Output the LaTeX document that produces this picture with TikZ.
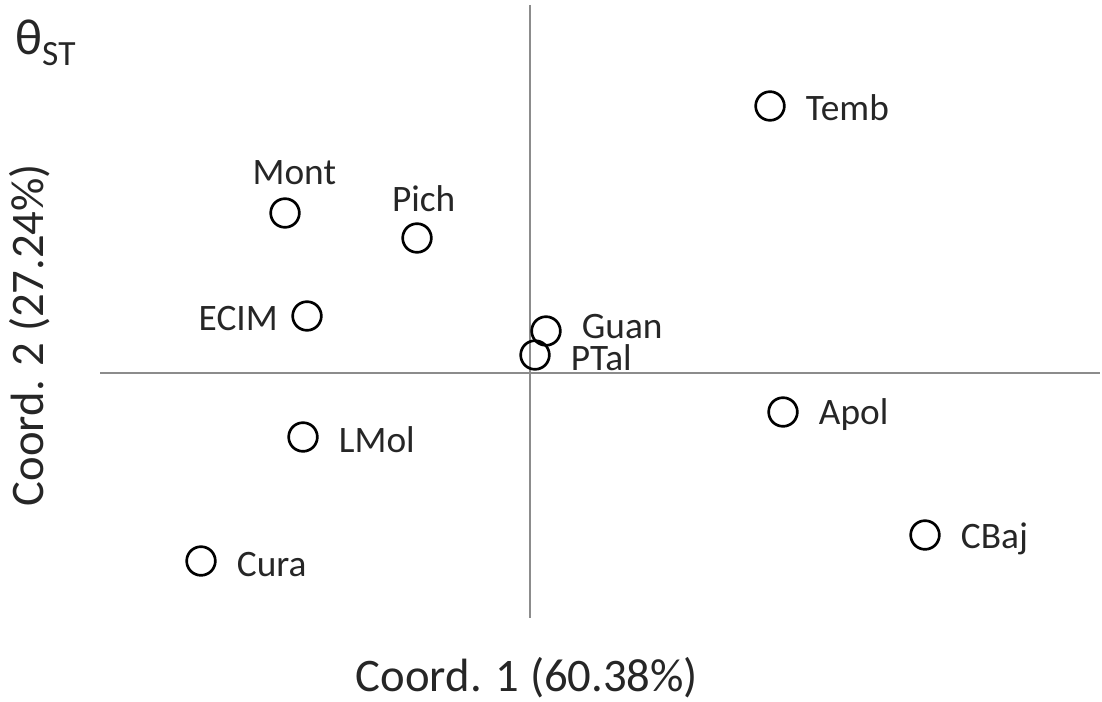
\documentclass[tikz,border=0pt]{standalone}
\usepackage{fontspec}
\setmainfont{Carlito}
\usetikzlibrary{positioning}
\begin{document}
\begin{tikzpicture}[
    x=0.75pt, y=-0.75pt,
    site/.style={circle, draw=black, line width=2pt, fill=none, minimum size=21.5pt, inner sep=0pt},
    tag/.style={font=\fontsize{28}{30}\selectfont, text=black!85, inner sep=0pt},
    axis/.style={draw=gray!90, line width=1.2pt},
    node distance=15pt
]
\useasboundingbox (0,0) rectangle (1102,702);

% axes
\coordinate (ytop) at (530,5);
\coordinate (ybot) at (530,618);
\coordinate (xl) at (100,373);
\coordinate (xr) at (1100,373);
\draw[axis] (ytop) -- (ybot);
\draw[axis] (xl) -- (xr);

% sites
\node[site] (temb) at (770,106) {};
\node[site] (mont) at (285,213) {};
\node[site] (pich) at (417,238) {};
\node[site] (ecim) at (307,316) {};
\node[site] (guan) at (546,331) {};
\node[site] (ptal) at (535,355) {};
\node[site] (apol) at (783,412) {};
\node[site] (lmol) at (303,437) {};
\node[site] (cbaj) at (925,535) {};
\node[site] (cura) at (201,561) {};

\node[tag, right=of temb, yshift=-1pt] (tembT) {Temb};
\node[tag, above=7pt of mont, xshift=7pt, yshift=2pt] (montT) {Mont};
\node[tag, above=7pt of pich, xshift=5pt, yshift=1pt] (pichT) {Pich};
\node[tag, left=10pt of ecim, yshift=-2pt] (ecimT) {ECIM};
\node[tag, right=of guan, yshift=3pt] (guanT) {Guan};
\node[tag, right=of ptal, yshift=-2pt] (ptalT) {PTal};
\node[tag, right=of apol, yshift=-2pt] (apolT) {Apol};
\node[tag, right=of lmol, yshift=-2pt] (lmolT) {LMol};
\node[tag, right=of cbaj, yshift=-3pt] (cbajT) {CBaj};
\node[tag, right=of cura, yshift=-3pt] (curaT) {Cura};

% titles
\node[font=\fontsize{35}{38}\selectfont, text=black!85, inner sep=0pt] (xtitle) at (527,678) {Coord. 1 (60.38\%)};
\node[font=\fontsize{35}{38}\selectfont, text=black!85, inner sep=0pt, rotate=90] (ytitle) at (30,335) {Coord. 2 (27.24\%)};
\node[font=\fontsize{38}{40}\selectfont, text=black!85, inner sep=0pt, anchor=west] (theta) at (15,43) {θ\textsubscript{ST}};

\end{tikzpicture}
\end{document}
